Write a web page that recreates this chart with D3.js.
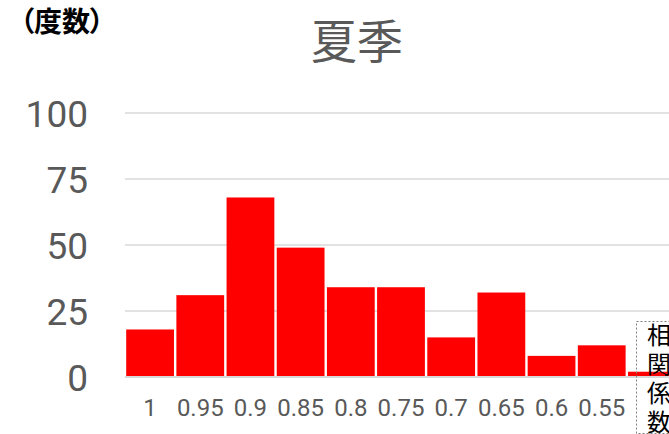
<!DOCTYPE html>
<html>
<head>
    <meta charset="utf-8">
    <script src="https://d3js.org/d3.v7.min.js"></script>
    <style>
        body { margin: 0; background: #fff; }
        svg { display: block; }
    </style>
</head>
<body>
    <script>
        //****DATA****
        const categories = ['1', '0.95', '0.9', '0.85', '0.8', '0.75', '0.7', '0.65', '0.6', '0.55', '0.5'];
        const categoryLabels = ['1', '0.95', '0.9', '0.85', '0.8', '0.75', '0.7', '0.65', '0.6', '0.55', ''];
        const counts = [18, 31, 68, 49, 34, 34, 15, 32, 8, 12, 2];
        const yTicks = [0, 25, 50, 75, 100];

        //****CANVAS****
        const width = 669;
        const height = 434;
        const plotLeft = 125;
        const plotRight = 677;
        const plotTop = 113;
        const plotBottom = 377;

        const svg = d3.select('body')
            .append('svg')
            .attr('width', width)
            .attr('height', height);

        const grey = '#595959';
        const cjk = "'Noto Sans CJK JP', 'Noto Sans', sans-serif";
        const latin = "Roboto, 'Noto Sans', sans-serif";

        //****SCALES****
        const xScale = d3.scaleBand()
            .domain(categories)
            .range([plotLeft, plotRight])
            .padding(0);

        const yScale = d3.scaleLinear()
            .domain([0, 100])
            .range([plotBottom, plotTop]);

        //****GRIDLINES****
        svg.append('g')
            .selectAll('line')
            .data(yTicks)
            .enter()
            .append('line')
            .attr('x1', plotLeft)
            .attr('x2', width)
            .attr('y1', d => yScale(d))
            .attr('y2', d => yScale(d))
            .attr('stroke', '#d9d9d9')
            .attr('stroke-width', d => d === 0 ? 2 : 1.5);

        //****BARS****
        svg.append('g')
            .selectAll('rect')
            .data(counts)
            .enter()
            .append('rect')
            .attr('x', (d, i) => xScale(categories[i]) + 1.2)
            .attr('width', xScale.bandwidth() - 2.4)
            .attr('y', d => yScale(d))
            .attr('height', d => yScale(0) - yScale(d) - 1)
            .attr('fill', '#ff0000');

        //****AXES (labels only)****
        const yAxis = d3.axisLeft(yScale)
            .tickValues(yTicks)
            .tickSize(0)
            .tickPadding(0);

        const yG = svg.append('g')
            .attr('transform', 'translate(88, 0)')
            .call(yAxis);
        yG.select('.domain').remove();
        yG.selectAll('text')
            .attr('dy', '0.36em')
            .style('font-family', latin)
            .style('font-size', '37px')
            .style('fill', grey);

        const xAxis = d3.axisBottom(xScale)
            .tickFormat((d, i) => categoryLabels[i])
            .tickSize(0)
            .tickPadding(0);

        const xG = svg.append('g')
            .attr('transform', 'translate(0, 399)')
            .call(xAxis);
        xG.select('.domain').remove();
        xG.selectAll('text')
            .attr('dy', '0.71em')
            .style('font-family', latin)
            .style('font-size', '24px')
            .style('fill', grey);

        //****TITLE****
        svg.append('text')
            .attr('x', 357)
            .attr('y', 58)
            .attr('text-anchor', 'middle')
            .style('font-family', cjk)
            .style('font-size', '46px')
            .style('fill', grey)
            .text('夏季');

        // y axis title
        svg.append('text')
            .attr('x', 20)
            .attr('y', 32)
            .style('font-family', cjk)
            .style('font-size', '28px')
            .style('font-weight', 'bold')
            .style('font-feature-settings', "'palt'")
            .style('fill', '#000')
            .text('（度数）');

        // x axis title (vertical, in dashed box)
        svg.append('rect')
            .attr('x', 636.5)
            .attr('y', 321.5)
            .attr('width', 60)
            .attr('height', 112)
            .attr('fill', 'none')
            .attr('stroke', '#7f7f7f')
            .attr('stroke-width', 1)
            .attr('stroke-dasharray', '2,2');

        const xTitle = '相関係数'.split('');
        svg.append('g')
            .selectAll('text')
            .data(xTitle)
            .enter()
            .append('text')
            .attr('x', 647)
            .attr('y', (d, i) => 344 + i * 29)
            .style('font-family', cjk)
            .style('font-size', '24px')
            .style('fill', '#000')
            .text(d => d);
    </script>
</body>
</html>
